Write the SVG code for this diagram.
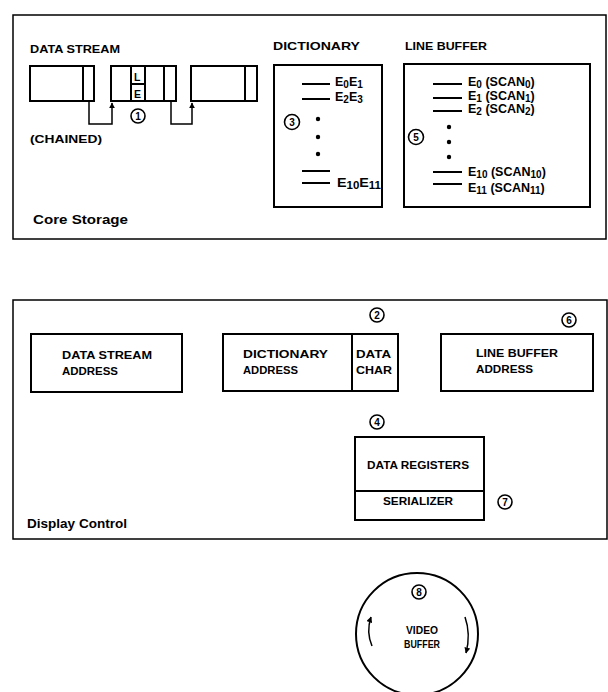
<svg xmlns="http://www.w3.org/2000/svg" width="608" height="692" viewBox="0 0 608 692">
<style>
.t{font-family:"Liberation Sans",Arial,sans-serif;font-weight:bold;font-size:10.5px;fill:#000}
.big{font-size:12.5px}
.e{font-size:12.5px}
.s{font-size:10px}
.box{fill:none;stroke:#000;stroke-width:1.5}
.node{fill:#fff;stroke:#000;stroke-width:2}
.ln{stroke:#000;stroke-width:2;fill:none}
.cn{stroke:#000;stroke-width:1.5;fill:none}
.num{fill:#fff;stroke:#000;stroke-width:1.6}
.nt{font-family:"Liberation Sans",Arial,sans-serif;font-weight:bold;font-size:10px;text-anchor:middle}
</style>
<defs>
<marker id="ah" viewBox="0 0 10 10" refX="9" refY="5" markerWidth="6" markerHeight="6" orient="auto" markerUnits="userSpaceOnUse">
<path d="M0,0 L10,5 L0,10 z" fill="#000"/>
</marker>
</defs>
<rect width="608" height="692" fill="#fff"/>

<g id="core-storage">
<rect class="box" x="13" y="15" width="593" height="224"/>
<text class="t big" x="33" y="224" textLength="95" lengthAdjust="spacingAndGlyphs">Core Storage</text>
</g>

<g id="data-stream">
<text class="t" x="30" y="53" textLength="90" lengthAdjust="spacingAndGlyphs">DATA STREAM</text>
<rect class="node" x="30" y="66" width="64" height="35"/>
<line class="ln" x1="83" y1="66" x2="83" y2="101"/>
<rect class="node" x="111" y="66" width="65" height="35"/>
<line class="ln" x1="131" y1="66" x2="131" y2="101"/>
<line class="ln" x1="145" y1="66" x2="145" y2="101"/>
<line class="ln" x1="164" y1="66" x2="164" y2="101"/>
<line class="ln" x1="131" y1="84" x2="145" y2="84"/>
<text class="t" x="134" y="81" font-size="10">L</text>
<text class="t" x="134" y="98" font-size="10">E</text>
<rect class="node" x="191" y="66" width="66" height="35"/>
<line class="ln" x1="245" y1="66" x2="245" y2="101"/>
<text class="t" x="30" y="143" textLength="72" lengthAdjust="spacingAndGlyphs">(CHAINED)</text>
<circle class="num" cx="138" cy="116" r="7"/>
<text class="nt" x="138" y="119.5">1</text>
</g>

<g id="dictionary">
<text class="t" x="273" y="50" textLength="87" lengthAdjust="spacingAndGlyphs">DICTIONARY</text>
<rect class="node" x="274" y="65" width="108" height="142"/>
<line class="ln" x1="302" y1="84" x2="330" y2="84"/>
<line class="ln" x1="302" y1="99" x2="330" y2="99"/>
<line class="ln" x1="302" y1="171" x2="330" y2="171"/>
<line class="ln" x1="302" y1="183" x2="330" y2="183"/>
<text class="t e" x="335" y="86">E<tspan class="s" dy="2">0</tspan><tspan dy="-2">E</tspan><tspan class="s" dy="2">1</tspan></text>
<text class="t e" x="335" y="101">E<tspan class="s" dy="2">2</tspan><tspan dy="-2">E</tspan><tspan class="s" dy="2">3</tspan></text>
<text class="t e" x="337" y="187" textLength="44" lengthAdjust="spacingAndGlyphs">E<tspan class="s" dy="2">10</tspan><tspan dy="-2">E</tspan><tspan class="s" dy="2">11</tspan></text>
<circle cx="318" cy="119" r="2.2" fill="#000"/>
<circle cx="318" cy="137" r="2.2" fill="#000"/>
<circle cx="318" cy="154" r="2.2" fill="#000"/>
<circle class="num" cx="292" cy="122" r="7.5"/>
<text class="nt" x="292" y="125.5">3</text>
</g>

<g id="line-buffer">
<text class="t" x="405" y="50" textLength="82" lengthAdjust="spacingAndGlyphs">LINE BUFFER</text>
<rect class="node" x="404" y="64" width="186" height="143"/>
<line class="ln" x1="433" y1="84" x2="462" y2="84"/>
<line class="ln" x1="433" y1="98" x2="462" y2="98"/>
<line class="ln" x1="433" y1="111" x2="462" y2="111"/>
<line class="ln" x1="433" y1="172" x2="462" y2="172"/>
<line class="ln" x1="433" y1="184" x2="462" y2="184"/>
<text class="t e" x="468" y="86">E<tspan class="s" dy="2">0</tspan><tspan dy="-2"> (SCAN</tspan><tspan class="s" dy="2">0</tspan><tspan dy="-2">)</tspan></text>
<text class="t e" x="468" y="100">E<tspan class="s" dy="2">1</tspan><tspan dy="-2"> (SCAN</tspan><tspan class="s" dy="2">1</tspan><tspan dy="-2">)</tspan></text>
<text class="t e" x="468" y="113">E<tspan class="s" dy="2">2</tspan><tspan dy="-2"> (SCAN</tspan><tspan class="s" dy="2">2</tspan><tspan dy="-2">)</tspan></text>
<text class="t e" x="468" y="176">E<tspan class="s" dy="2">10</tspan><tspan dy="-2"> (SCAN</tspan><tspan class="s" dy="2">10</tspan><tspan dy="-2">)</tspan></text>
<text class="t e" x="468" y="192">E<tspan class="s" dy="2">11</tspan><tspan dy="-2"> (SCAN</tspan><tspan class="s" dy="2">11</tspan><tspan dy="-2">)</tspan></text>
<circle cx="449" cy="127" r="2.2" fill="#000"/>
<circle cx="449" cy="142" r="2.2" fill="#000"/>
<circle cx="449" cy="157" r="2.2" fill="#000"/>
<circle class="num" cx="416" cy="137" r="7.5"/>
<text class="nt" x="416" y="140.5">5</text>
</g>

<g id="display-control">
<rect class="box" x="13" y="300" width="594" height="239"/>
<text class="t big" x="27" y="528" textLength="100" lengthAdjust="spacingAndGlyphs">Display Control</text>
</g>

<g id="data-stream-address">
<rect class="node" x="31" y="334" width="151" height="58"/>
<text class="t" x="62" y="359" textLength="90" lengthAdjust="spacingAndGlyphs">DATA STREAM</text>
<text class="t" x="62" y="375" textLength="56" lengthAdjust="spacingAndGlyphs">ADDRESS</text>
</g>

<g id="dictionary-address">
<rect class="node" x="223" y="334" width="175" height="57"/>
<line class="ln" x1="352" y1="334" x2="352" y2="391"/>
<text class="t" x="243" y="358" textLength="85" lengthAdjust="spacingAndGlyphs">DICTIONARY</text>
<text class="t" x="243" y="374" textLength="55" lengthAdjust="spacingAndGlyphs">ADDRESS</text>
<text class="t" x="356" y="358" textLength="35" lengthAdjust="spacingAndGlyphs">DATA</text>
<text class="t" x="356" y="374" textLength="36" lengthAdjust="spacingAndGlyphs">CHAR</text>
<circle class="num" cx="377" cy="315" r="7"/>
<text class="nt" x="377" y="318.5">2</text>
</g>

<g id="line-buffer-address">
<rect class="node" x="441" y="334" width="152" height="57"/>
<text class="t" x="476" y="357" textLength="82" lengthAdjust="spacingAndGlyphs">LINE BUFFER</text>
<text class="t" x="476" y="373" textLength="57" lengthAdjust="spacingAndGlyphs">ADDRESS</text>
<circle class="num" cx="569" cy="320" r="7"/>
<text class="nt" x="569" y="323.5">6</text>
</g>

<g id="data-registers">
<rect class="node" x="355" y="437" width="129" height="83"/>
<line class="ln" x1="355" y1="491" x2="484" y2="491"/>
<text class="t" x="367" y="469" textLength="102" lengthAdjust="spacingAndGlyphs">DATA REGISTERS</text>
<text class="t" x="383" y="505" textLength="70" lengthAdjust="spacingAndGlyphs">SERIALIZER</text>
<circle class="num" cx="377" cy="422" r="7"/>
<text class="nt" x="377" y="425.5">4</text>
<circle class="num" cx="505" cy="502" r="7"/>
<text class="nt" x="505" y="505.5">7</text>
</g>

<g id="video-buffer">
<circle cx="417" cy="634" r="61" fill="none" stroke="#000" stroke-width="2"/>
<circle class="num" cx="419" cy="592" r="7"/>
<text class="nt" x="419" y="595.5">8</text>
<text class="t" x="406" y="634" textLength="32" lengthAdjust="spacingAndGlyphs">VIDEO</text>
<text class="t" x="404" y="648" textLength="36" lengthAdjust="spacingAndGlyphs">BUFFER</text>
</g>

<g id="connectors">
<path class="cn" d="M89,101 V124 H112 V103" marker-end="url(#ah)"/>
<path class="cn" d="M171,101 V124 H192 V103" marker-end="url(#ah)"/>
<path class="cn" d="M372,646 Q366,632 371,617" marker-end="url(#ah)"/>
<path class="cn" d="M465,617 Q471,634 466,653" marker-end="url(#ah)"/>
</g>
</svg>
